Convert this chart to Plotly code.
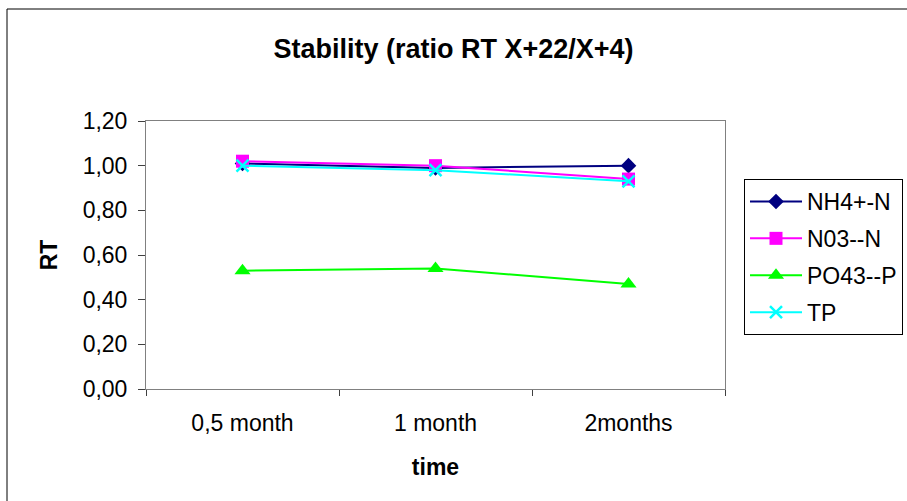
import plotly.graph_objects as go

# Sampling intervals and RT ratios per parameter
periods = ["0,5 month", "1 month", "2months"]
nh4_n = [1.01, 0.99, 1.00]
no3_n = [1.02, 1.00, 0.94]
po43_p = [0.53, 0.54, 0.47]
tp = [1.00, 0.98, 0.93]
y_ticks = [0.0, 0.2, 0.4, 0.6, 0.8, 1.0, 1.2]

FONT = "Liberation Sans, Arial, sans-serif"

fig = go.Figure()
fig.add_trace(go.Scatter(x=periods, y=nh4_n, name="NH4+-N", mode="lines+markers",
                         legendgroup="a",
                         line=dict(color="#000080", width=2),
                         marker=dict(symbol="diamond", size=12, color="#000080")))
fig.add_trace(go.Scatter(x=periods, y=no3_n, name="N03--N", mode="lines+markers",
                         legendgroup="b",
                         line=dict(color="#FF00FF", width=2),
                         marker=dict(symbol="square", size=13, color="#FF00FF")))
fig.add_trace(go.Scatter(x=periods, y=po43_p, name="PO43--P", mode="lines+markers",
                         legendgroup="c",
                         line=dict(color="#00FF00", width=2),
                         marker=dict(symbol="triangle-up", size=14, color="#00FF00")))
fig.add_trace(go.Scatter(x=periods, y=tp, name="TP", mode="lines+markers",
                         legendgroup="d",
                         line=dict(color="#00FFFF", width=2),
                         marker=dict(symbol="x-thin", size=12,
                                     line=dict(color="#00FFFF", width=2.5))))

ml, mr, mt, mb = 146, 182, 121, 112
W, H = 907, 501
pw, ph = W - ml - mr, H - mt - mb

def px_x(p):
    return (p - ml) / pw

def px_y(p):
    return (H - mb - p) / ph

fig.update_layout(
    width=W, height=H,
    margin=dict(l=ml, r=mr, t=mt, b=mb, autoexpand=False),
    paper_bgcolor="white", plot_bgcolor="white",
    separators=",.",
    font=dict(family=FONT, size=23, color="black"),
    title=dict(text="<b>Stability (ratio RT X+22/X+4)</b>", x=0.5, xanchor="center",
               y=1 - 49 / H, yanchor="middle", font=dict(size=27, family=FONT)),
    showlegend=True,
    legend=dict(x=px_x(744), xanchor="left", y=px_y(179), yanchor="top",
                bordercolor="black", borderwidth=1, bgcolor="white",
                font=dict(size=23, family=FONT), tracegroupgap=4,
                entrywidth=175, itemwidth=52),
    xaxis=dict(type="category", range=[-0.5, 2.5],
               showline=True, linecolor="#808080", linewidth=1,
               mirror=True, ticks="outside", tickson="boundaries", ticklen=6,
               tickcolor="#404040", showgrid=False, zeroline=False,
               tickfont=dict(size=23), ticklabelstandoff=13,
               title=dict(text="<b>time</b>", font=dict(size=23), standoff=24)),
    yaxis=dict(range=[0, 1.2], tickvals=y_ticks, tickformat=".2f",
               showline=True, linecolor="#808080", linewidth=1, mirror=True,
               ticks="outside", ticklen=7, tickcolor="#404040",
               showgrid=False, zeroline=False, tickfont=dict(size=23),
               ticklabelstandoff=6,
               title=dict(text="<b>RT</b>", font=dict(size=23), standoff=18)),
    shapes=[dict(type="rect", xref="paper", yref="paper",
                 x0=px_x(7), x1=px_x(915), y0=px_y(510), y1=px_y(9),
                 line=dict(color="black", width=1), layer="below")],
)

fig.write_html("out.html")
